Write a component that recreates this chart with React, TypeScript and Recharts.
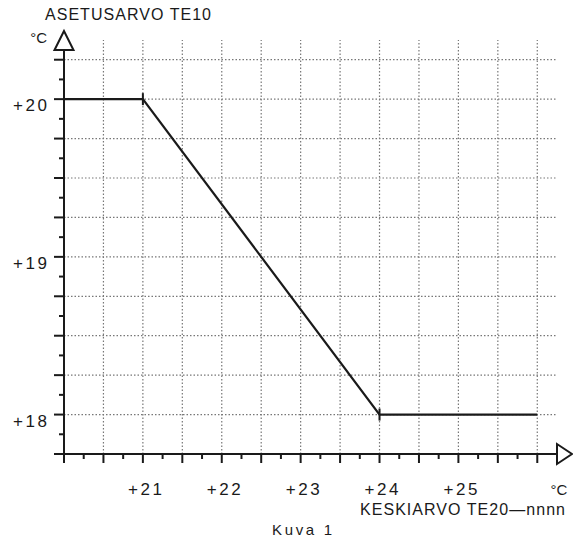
import { LineChart, Line, XAxis, YAxis, ReferenceLine } from "recharts";

// setpoint curve: TE10 setpoint vs TE20 average
const setpointX = [20, 21, 24, 26];
const setpointY = [20, 20, 18, 18];
const markedX = [21, 24];

const xTicks = [
  20, 20.25, 20.5, 20.75, 21, 21.25, 21.5, 21.75, 22, 22.25, 22.5, 22.75, 23,
  23.25, 23.5, 23.75, 24, 24.25, 24.5, 24.75, 25, 25.25, 25.5, 25.75, 26,
];
const yTicks = [
  17.75, 17.875, 18, 18.125, 18.25, 18.375, 18.5, 18.625, 18.75, 18.875, 19,
  19.125, 19.25, 19.375, 19.5, 19.625, 19.75, 19.875, 20, 20.125, 20.25,
];
const xLabels = [21, 22, 23, 24, 25];
const yLabels = [18, 19, 20];
const gridX = [20.5, 21, 21.5, 22, 22.5, 23, 23.5, 24, 24.5, 25, 25.5, 26];
const gridY = [18, 18.25, 18.5, 18.75, 19, 19.25, 19.5, 19.75, 20, 20.25];

const data = setpointX.map((x, i) => ({ x, y: setpointY[i] }));

const INK = "#1a1a1a";
const FONT = "'Liberation Sans', Arial, Helvetica, sans-serif";

const onStep = (v: number, step: number) =>
  Math.abs(v / step - Math.round(v / step)) < 1e-6;

function XTick({ x, y, payload }: any) {
  const v = payload.value;
  return (
    <g>
      <line x1={x} x2={x} y1={y} y2={y + (onStep(v, 0.5) ? 9 : 5)} stroke={INK} strokeWidth={2} />
      {xLabels.includes(v) && (
        <text x={x + 2} y={y + 41} textAnchor="middle" fontSize={17} fill={INK} fontFamily={FONT}
          textLength={34} lengthAdjust="spacing">
          {`+${v}`}
        </text>
      )}
    </g>
  );
}

function YTick({ x, y, payload }: any) {
  const v = payload.value;
  return (
    <g>
      <line x1={x} x2={x - (onStep(v, 0.25) ? 10 : 5)} y1={y} y2={y} stroke={INK} strokeWidth={2} />
      {yLabels.includes(v) && (
        <text x={x - 17} y={y + 12} textAnchor="end" fontSize={17} fill={INK} fontFamily={FONT}
          textLength={34} lengthAdjust="spacing">
          {`+${v}`}
        </text>
      )}
    </g>
  );
}

function YDecor(props: any) {
  const vb = props.viewBox || { x: 0, y: 40, width: 64, height: 414 };
  const ax = vb.x + vb.width;
  const top = vb.y;
  return (
    <g fontFamily={FONT} fill={INK}>
      <polygon points={`${ax},${top - 9} ${ax - 9.5},${top + 10} ${ax + 9.5},${top + 10}`}
        fill="#fff" stroke={INK} strokeWidth={2} />
      <text x={ax - 17} y={top + 3} textAnchor="end" fontSize={15}>°C</text>
      <text x={45} y={20} fontSize={16} textLength={166} lengthAdjust="spacing">ASETUSARVO  TE10</text>
    </g>
  );
}

function XDecor(props: any) {
  const vb = props.viewBox || { x: 64, y: 454, width: 493, height: 83 };
  const right = vb.x + vb.width;
  const ay = vb.y;
  return (
    <g fontFamily={FONT} fill={INK}>
      <polygon points={`${right},${ay - 10} ${right},${ay + 10} ${right + 15},${ay}`}
        fill="#fff" stroke={INK} strokeWidth={2} />
      <text x={559} y={ay + 41} textAnchor="middle" fontSize={15}>°C</text>
      <text x={360} y={ay + 61} fontSize={16} textLength={205} lengthAdjust="spacing">KESKIARVO  TE20—nnnn</text>
      <text x={272} y={ay + 81} fontSize={15} textLength={60} lengthAdjust="spacing">Kuva  1</text>
    </g>
  );
}

function Mark(props: any) {
  const { cx, cy, payload, index } = props;
  if (!markedX.includes(payload.x)) return <g key={`m${index}`} />;
  return <line key={`m${index}`} x1={cx} x2={cx} y1={cy - 6} y2={cy + 6} stroke={INK} strokeWidth={2} />;
}

export default function App() {
  return (
    <div style={{ position: "absolute", left: 0, top: 0, background: "#fff" }}>
      <LineChart width={573} height={537} data={data} margin={{ top: 40, right: 16, left: 0, bottom: 0 }}>
        {gridX.map((v) => (
          <ReferenceLine key={`gx${v}`} x={v} stroke="#777" strokeDasharray="1.5 2" strokeWidth={1.2} />
        ))}
        {gridY.map((v) => (
          <ReferenceLine key={`gy${v}`} y={v} stroke="#777" strokeDasharray="1.5 2" strokeWidth={1.2} />
        ))}
        <XAxis dataKey="x" type="number" domain={[20, 26.25]} allowDataOverflow ticks={xTicks}
          interval={0} height={83} tickSize={0} tickMargin={0} tickLine={false}
          axisLine={{ stroke: INK, strokeWidth: 2 }} tick={<XTick />} label={<XDecor />} />
        <YAxis dataKey="y" type="number" domain={[17.75, 20.375]} allowDataOverflow ticks={yTicks}
          interval={0} width={64} tickSize={0} tickMargin={0} tickLine={false}
          axisLine={{ stroke: INK, strokeWidth: 2 }} tick={<YTick />} label={<YDecor />} />
        <Line type="linear" dataKey="y" stroke={INK} strokeWidth={2.2} dot={Mark} activeDot={false}
          isAnimationActive={false} />
      </LineChart>
    </div>
  );
}
